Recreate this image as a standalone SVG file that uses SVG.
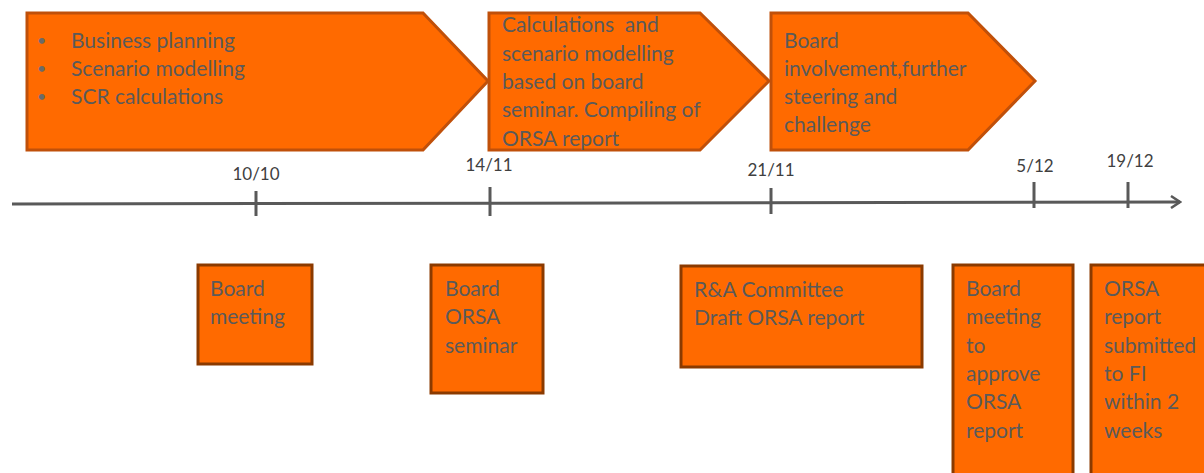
<svg xmlns="http://www.w3.org/2000/svg" width="1204" height="473" viewBox="0 0 1204 473">
<defs>
<style>
.chev{fill:#FF6A00;stroke:#C0500A;stroke-width:3;stroke-linejoin:miter}
.box{fill:#FF6A00;stroke:#8B3A00;stroke-width:3}
.t{font-family:Lato,"Liberation Sans",sans-serif;font-size:21px;fill:#5A5A5A}
.b{font-family:Lato,"Liberation Sans",sans-serif;font-size:16px;fill:#6A6A6A}
.d{font-family:Lato,"Liberation Sans",sans-serif;font-size:17px;fill:#404040}
.axis{stroke:#595959;stroke-width:3;fill:none}
</style>
<marker id="arr" markerWidth="12" markerHeight="14" refX="10" refY="7" orient="auto" markerUnits="userSpaceOnUse">
<path d="M1,1 L10,7 L1,13" fill="none" stroke="#595959" stroke-width="2.5"/>
</marker>
</defs>
<rect width="1204" height="473" fill="#fff"/>
<g id="phase1">
<path class="chev" d="M27,13 H423 L488,81 L423,150 H27 Z"/>
<text class="b" x="37" y="46">•</text><text class="t" x="71" y="48">Business planning</text>
<text class="b" x="37" y="74">•</text><text class="t" x="71" y="76">Scenario modelling</text>
<text class="b" x="37" y="102">•</text><text class="t" x="71" y="104">SCR calculations</text>
</g>
<g id="phase2">
<path class="chev" d="M489,13 H700 L769,81 L700,150 H489 Z"/>
<text class="t" x="502" y="32" xml:space="preserve">Calculations  and</text>
<text class="t" x="502" y="61">scenario modelling</text>
<text class="t" x="502" y="89">based on board</text>
<text class="t" x="502" y="117">seminar. Compiling of</text>
<text class="t" x="502" y="146">ORSA report</text>
</g>
<g id="phase3">
<path class="chev" d="M771,13 H968 L1035,81 L968,150 H771 Z"/>
<text class="t" x="784" y="48">Board</text>
<text class="t" x="784" y="76">involvement,further</text>
<text class="t" x="784" y="104">steering and</text>
<text class="t" x="784" y="132">challenge</text>
</g>
<g id="connectors">
<line class="axis" x1="12" y1="204" x2="1180" y2="202" marker-end="url(#arr)"/>
<line class="axis" x1="256" y1="191" x2="256" y2="216"/>
<line class="axis" x1="490" y1="187" x2="490" y2="216"/>
<line class="axis" x1="771" y1="188" x2="771" y2="214"/>
<line class="axis" x1="1034" y1="182" x2="1034" y2="208"/>
<line class="axis" x1="1128" y1="182" x2="1128" y2="208"/>
</g>
<g id="dates">
<text class="d" x="256" y="180" text-anchor="middle">10/10</text>
<text class="d" x="489" y="171" text-anchor="middle">14/11</text>
<text class="d" x="771" y="176" text-anchor="middle">21/11</text>
<text class="d" x="1035" y="172" text-anchor="middle">5/12</text>
<text class="d" x="1130" y="167" text-anchor="middle">19/12</text>
</g>
<g id="m1">
<rect class="box" x="198" y="265" width="114" height="99"/>
<text class="t" x="210" y="296">Board</text>
<text class="t" x="210" y="324">meeting</text>
</g>
<g id="m2">
<rect class="box" x="431" y="265" width="112" height="128"/>
<text class="t" x="445" y="296">Board</text>
<text class="t" x="445" y="324">ORSA</text>
<text class="t" x="445" y="353">seminar</text>
</g>
<g id="m3">
<rect class="box" x="681" y="266" width="241" height="101"/>
<text class="t" x="694" y="297">R&amp;A Committee</text>
<text class="t" x="694" y="325">Draft ORSA report</text>
</g>
<g id="m4">
<rect class="box" x="953" y="265" width="120" height="215"/>
<text class="t" x="966" y="296">Board</text>
<text class="t" x="966" y="324">meeting</text>
<text class="t" x="966" y="353">to</text>
<text class="t" x="966" y="381">approve</text>
<text class="t" x="966" y="409">ORSA</text>
<text class="t" x="966" y="438">report</text>
</g>
<g id="m5">
<rect class="box" x="1091" y="265" width="130" height="215"/>
<text class="t" x="1104" y="296">ORSA</text>
<text class="t" x="1104" y="324">report</text>
<text class="t" x="1104" y="353">submitted</text>
<text class="t" x="1104" y="381">to FI</text>
<text class="t" x="1104" y="409">within 2</text>
<text class="t" x="1104" y="438">weeks</text>
</g>
</svg>
